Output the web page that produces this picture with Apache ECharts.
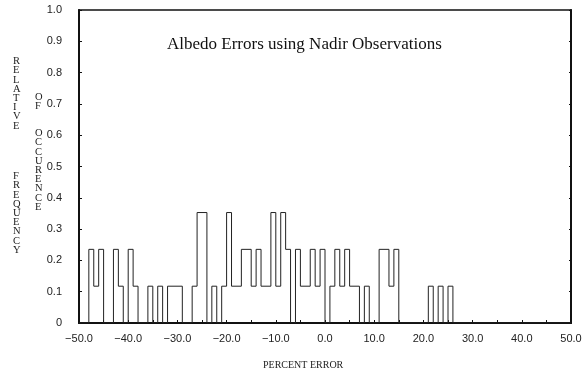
<!DOCTYPE html>
<html>
<head>
<meta charset="utf-8">
<script src="https://cdn.jsdelivr.net/npm/echarts@6/dist/echarts.min.js"></script>
<style>
  html, body { margin: 0; padding: 0; background: #fff; }
  #chart { width: 585px; height: 377px; }
</style>
</head>
<body>
<div id="chart"></div>
<script>
// histogram, bins of 1 percent: x where a new level starts, and its relative frequency
var stepX = [-50, -48, -47, -46, -45, -43, -42, -41, -40, -39, -38, -36, -35, -34, -33, -32, -29,
  -27, -26, -24, -23, -22, -21, -20, -19, -17, -15, -14, -13, -11, -10, -9, -8, -7, -6, -5,
  -3, -2, -1, 0, 1, 2, 3, 4, 5, 7, 8, 9, 11, 13, 14, 15, 21, 22, 23, 24, 25, 26, 50]
var stepY = [0, 0.2353, 0.1176, 0.2353, 0, 0.2353, 0.1176, 0, 0.2353, 0.1176, 0, 0.1176, 0, 0.1176, 0, 0.1176, 0,
  0.1176, 0.3529, 0, 0.1176, 0, 0.1176, 0.3529, 0.1176, 0.2353, 0.1176, 0.2353, 0.1176, 0.3529, 0.1176, 0.3529, 0.2353, 0, 0.2353, 0.1176,
  0.2353, 0.1176, 0.2353, 0, 0.1176, 0.2353, 0.1176, 0.2353, 0.1176, 0, 0.1176, 0, 0.2353, 0.1176, 0.2353, 0, 0.1176, 0, 0.1176, 0, 0.1176, 0, 0]

var titleText = 'Albedo Errors using Nadir Observations'
var xTitle = 'PERCENT ERROR'
var yTitle1a = 'RELATIVE'
var yTitle1b = 'FREQUENCY'
var yTitle2a = 'OF'
var yTitle2b = 'OCCURENCE'

var seriesData = stepX.map(function (x, i) { return [x, stepY[i]] })

// letters stacked one under another
function stacked (s) {
  return s.split('').join('\n')
}

var serif = '"Liberation Serif", "DejaVu Serif", serif'
var sans = '"Liberation Sans", Arial, sans-serif'
var ink = '#111'

function vText (txt, x, y) {
  return {
    type: 'text',
    left: x,
    top: y,
    style: {
      text: stacked(txt),
      font: '10.5px ' + serif,
      lineHeight: 9.2,
      fill: '#222',
      align: 'center'
    }
  }
}

var chart = echarts.init(document.getElementById('chart'))
var option = {
  backgroundColor: '#fff',
  animation: false,
  grid: {
    left: 79,
    right: 14,
    top: 10,
    bottom: 54,
    show: true,
    borderColor: ink,
    borderWidth: 1.5,
    backgroundColor: 'transparent'
  },
  graphic: [
    {
      type: 'text',
      left: 167,
      top: 36,
      style: { text: titleText, font: '17px ' + serif, fill: '#111' }
    },
    {
      type: 'text',
      left: 263,
      top: 360,
      style: { text: xTitle, font: '10px ' + serif, fill: '#222' }
    },
    vText(yTitle1a, 13, 56),
    vText(yTitle1b, 13, 171),
    vText(yTitle2a, 35, 92),
    vText(yTitle2b, 35, 128)
  ],
  xAxis: {
    type: 'value',
    min: -50,
    max: 50,
    interval: 10,
    axisLine: { show: true, onZero: false, lineStyle: { color: ink, width: 2 } },
    axisTick: { show: true, inside: true, length: 3, lineStyle: { color: ink } },
    minorTick: { show: true, splitNumber: 2, length: 3, lineStyle: { color: ink } },
    splitLine: { show: false },
    axisLabel: {
      margin: 10,
      fontFamily: sans,
      fontSize: 11,
      color: '#222',
      formatter: function (v) {
        return (v < 0 ? '\u2212' : '') + Math.abs(v).toFixed(1)
      }
    }
  },
  yAxis: [
    {
      type: 'value',
      min: 0,
      max: 1,
      interval: 0.1,
      axisLine: { show: true, onZero: false, lineStyle: { color: ink, width: 2 } },
      axisTick: { show: true, inside: true, length: 3, lineStyle: { color: ink } },
      splitLine: { show: false },
      axisLabel: {
        margin: 17,
        fontFamily: sans,
        fontSize: 11,
        color: '#222',
        formatter: function (v) {
          return v === 0 ? '0' : v.toFixed(1)
        }
      }
    },
    {
      type: 'value',
      position: 'right',
      min: 0,
      max: 1,
      interval: 0.1,
      axisLine: { show: true, onZero: false, lineStyle: { color: ink, width: 2 } },
      axisTick: { show: true, inside: true, length: 2, lineStyle: { color: ink } },
      splitLine: { show: false },
      axisLabel: { show: false }
    }
  ],
  series: [
    {
      type: 'line',
      step: 'end',
      data: seriesData,
      symbol: 'none',
      lineStyle: { color: '#222', width: 1 },
      yAxisIndex: 0
    }
  ]
}
chart.setOption(option)
</script>
</body>
</html>
